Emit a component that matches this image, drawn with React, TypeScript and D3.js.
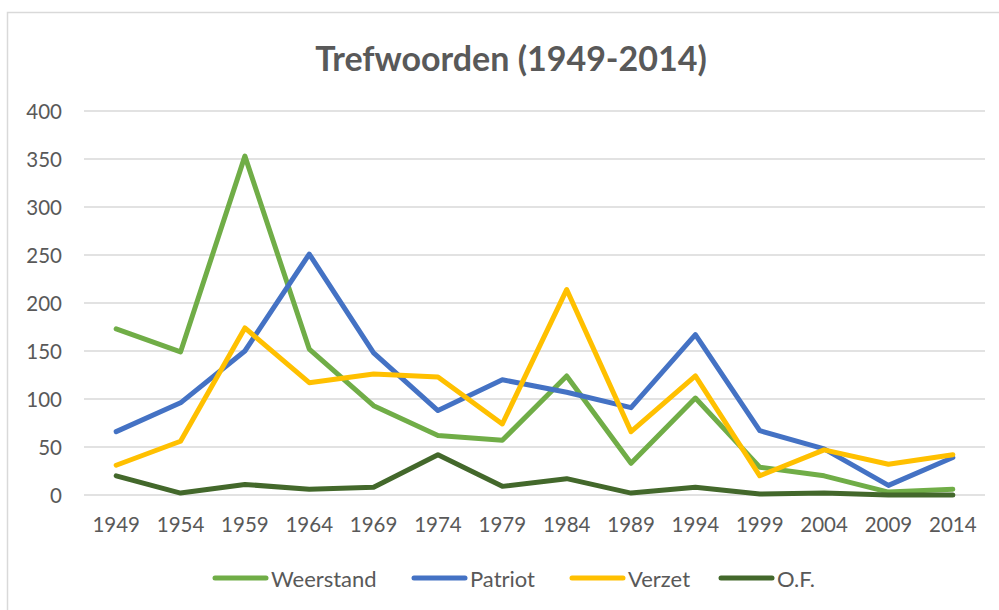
import * as d3 from 'd3';

const WIDTH = 999;
const HEIGHT = 610;
const PLOT = { left: 84, right: 985, top: 111, bottom: 495 };

const years = ['1949', '1954', '1959', '1964', '1969', '1974', '1979', '1984', '1989', '1994', '1999', '2004', '2009', '2014'];
const weerstand = [173, 149, 353, 152, 93, 62, 57, 124, 33, 101, 29, 20, 3, 6];
const patriot = [66, 96, 150, 251, 148, 88, 120, 107, 91, 167, 67, 48, 10, 39];
const verzet = [31, 56, 174, 117, 126, 123, 74, 214, 66, 124, 20, 47, 32, 42];
const of = [20, 2, 11, 6, 8, 42, 9, 17, 2, 8, 1, 2, 0, 0];
const yTicks = [0, 50, 100, 150, 200, 250, 300, 350, 400];

const seriesNames = ['Weerstand', 'Patriot', 'Verzet', 'O.F.'];
const seriesColors = ['#70AD47', '#4472C4', '#FFC000', '#43682B'];

const FONT = 'Lato, "Open Sans", sans-serif';
const TEXT_COLOR = '#595959';

export default function App() {
    const series = [weerstand, patriot, verzet, of];

    // category axis: one band per year, line points at the band centre
    const xScale = d3.scaleBand().domain(years).range([PLOT.left, PLOT.right]).padding(0);
    const yScale = d3.scaleLinear().domain([0, 400]).range([PLOT.bottom, PLOT.top]);
    const xc = (y: string) => (xScale(y) ?? 0) + xScale.bandwidth() / 2;

    const line = d3
        .line<number>()
        .x((_, i) => xc(years[i]))
        .y(d => yScale(d));

    // legend entries laid out left to right
    const legendX = [213, 412, 570, 719];

    return (
        <div style={{ position: 'absolute', left: 0, top: 0 }}>
            <svg width={WIDTH} height={HEIGHT} style={{ display: 'block', background: '#fff' }}>
                <rect x={7.5} y={12.5} width={1100} height={700} fill="#fff" stroke="#d9d9d9" strokeWidth={1.5} />
                <text
                    x={511}
                    y={57}
                    textAnchor="middle"
                    dominantBaseline="central"
                    fontFamily={FONT}
                    fontWeight="bold"
                    fontSize={34}
                    fill={TEXT_COLOR}
                >
                    Trefwoorden (1949-2014)
                </text>

                {/* grid + y labels */}
                {yTicks.map(t => (
                    <g key={t}>
                        <line x1={PLOT.left} x2={PLOT.right} y1={yScale(t)} y2={yScale(t)} stroke="#d9d9d9" strokeWidth={1.5} />
                        <text
                            x={62}
                            y={yScale(t)}
                            textAnchor="end"
                            dominantBaseline="central"
                            fontFamily={FONT}
                            fontSize={20.5}
                            fill={TEXT_COLOR}
                        >
                            {t}
                        </text>
                    </g>
                ))}

                {/* x labels */}
                {years.map(y => (
                    <text
                        key={y}
                        x={xc(y)}
                        y={524}
                        textAnchor="middle"
                        dominantBaseline="central"
                        fontFamily={FONT}
                        fontSize={20.5}
                        fill={TEXT_COLOR}
                    >
                        {y}
                    </text>
                ))}

                {series.map((s, i) => (
                    <path
                        key={seriesNames[i]}
                        d={line(s) ?? ''}
                        fill="none"
                        stroke={seriesColors[i]}
                        strokeWidth={5}
                        strokeLinejoin="round"
                        strokeLinecap="round"
                    />
                ))}

                {/* legend */}
                {seriesNames.map((name, i) => (
                    <g key={name}>
                        <line
                            x1={legendX[i] + 2}
                            x2={legendX[i] + 53}
                            y1={578}
                            y2={578}
                            stroke={seriesColors[i]}
                            strokeWidth={5}
                            strokeLinecap="round"
                        />
                        <text
                            x={legendX[i] + 58}
                            y={578}
                            dominantBaseline="central"
                            fontFamily={FONT}
                            fontSize={22}
                            fill={TEXT_COLOR}
                        >
                            {name}
                        </text>
                    </g>
                ))}
            </svg>
        </div>
    );
}
